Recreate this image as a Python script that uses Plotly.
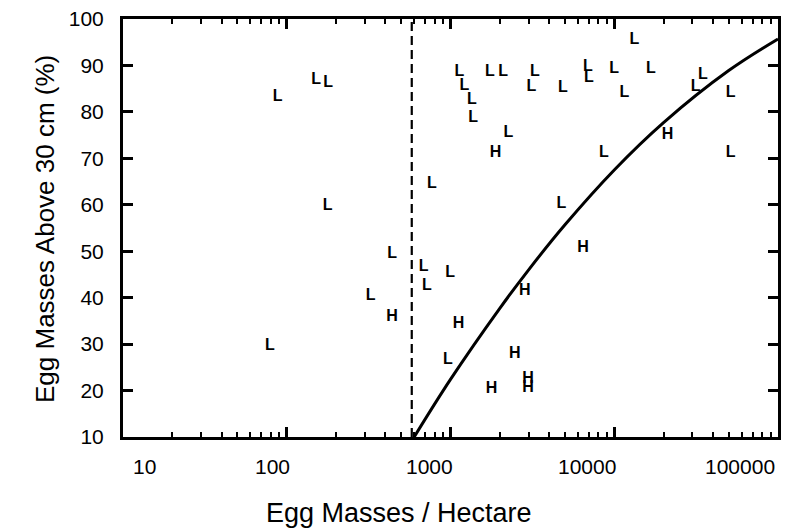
import numpy as np
import plotly.graph_objects as go

# ---- data ----
L_x = [88, 151, 179, 178, 79, 440, 685, 718, 995, 325, 964, 769,
       1135, 1216, 1349, 1377, 1741, 2099, 2256, 3273, 3119, 4864, 4753,
       13280, 6900, 7000, 10000, 16750, 11530, 34800, 31400, 51300, 8630, 51300]
L_y = [83.3, 86.9, 86.3, 59.7, 29.7, 49.4, 46.5, 42.6, 45.4, 40.4, 26.5, 64.4,
       88.6, 85.6, 82.6, 78.6, 88.6, 88.6, 75.4, 88.6, 85.4, 85.1, 60.1,
       95.4, 89.7, 87.2, 89.3, 89.3, 84.0, 87.9, 85.4, 84.0, 71.1, 71.1]

H_x = [1884, 21150, 6440, 440, 1120, 2845, 2470, 1783, 2980, 2980]
H_y = [71.1, 75.1, 50.8, 35.8, 34.4, 41.5, 27.9, 20.4, 22.4, 20.6]

curve_x = [600, 1000, 2000, 3000, 5000, 10000, 20000, 50000, 100000]
curve_y = [10.0, 22.4, 37.7, 46.0, 55.7, 67.5, 77.7, 88.9, 95.7]

threshold_x = 580
y_range = [10, 100]

x_tick_vals = [10, 100, 1000, 10000, 100000]
x_tick_text = ["10", "100", "1000", "10000", "100000"]
y_tick_vals = [10, 20, 30, 40, 50, 60, 70, 80, 90, 100]

x_title = "Egg Masses / Hectare"
y_title = "Egg Masses Above 30 cm (%)"

FONT = "Liberation Sans, Arial, Helvetica, sans-serif"

fig = go.Figure()

fig.add_trace(go.Scatter(
    x=[threshold_x, threshold_x], y=y_range, mode="lines",
    line=dict(color="black", width=2.2, dash="9px,5px"), hoverinfo="skip"))

fig.add_trace(go.Scatter(
    x=curve_x, y=curve_y, mode="lines", line_shape="spline",
    line=dict(color="black", width=3), hoverinfo="skip"))

fig.add_trace(go.Scatter(
    x=L_x, y=L_y, mode="text", text=["L"] * len(L_x),
    textposition="middle center",
    textfont=dict(family=FONT, size=16, color="black", weight="bold")))

fig.add_trace(go.Scatter(
    x=H_x, y=H_y, mode="text", text=["H"] * len(H_x),
    textposition="middle center",
    textfont=dict(family=FONT, size=16, color="black", weight="bold")))

# invisible trace so the top (mirror) axis is drawn with its minor ticks
fig.add_trace(go.Scatter(x=[x_tick_vals[0]], y=[y_range[0]], xaxis="x2",
                         mode="markers", marker=dict(opacity=0),
                         hoverinfo="skip"))

minor_vals = [m * 10 ** d for d in range(1, 5) for m in range(2, 10)]

axis_common = dict(
    type="log", range=[1, 5], showgrid=False, zeroline=False,
    showline=True, linecolor="black", linewidth=3,
    ticks="inside", ticklen=10, tickwidth=2.5, tickcolor="black",
    tickmode="array", tickvals=x_tick_vals, showticklabels=False,
    minor=dict(ticks="inside", ticklen=5, tickwidth=2, tickcolor="black",
               tickmode="array", tickvals=minor_vals, showgrid=False),
)

fig.update_layout(
    xaxis=dict(**axis_common),
    xaxis2=dict(**axis_common, overlaying="x", side="top", anchor="y"),
)
fig.update_yaxes(
    range=y_range, showgrid=False, zeroline=False,
    showline=True, linecolor="black", linewidth=3, mirror="ticks",
    ticks="inside", ticklen=10, tickwidth=2.5, tickcolor="black",
    tickmode="array", tickvals=y_tick_vals, ticklabelstandoff=12,
    tickfont=dict(family=FONT, size=21, color="black"),
)

label_shifts = [21, -14, -21, -27, -38]
annotations = []
for v, t, s in zip(x_tick_vals, x_tick_text, label_shifts):
    annotations.append(dict(x=np.log10(v), y=0, xref="x", yref="paper",
                            text=t, showarrow=False, xshift=s, yshift=-29,
                            yanchor="middle", xanchor="center",
                            font=dict(family=FONT, size=21, color="black")))
annotations.append(dict(x=0.421, y=0, xref="paper", yref="paper", text=x_title,
                        showarrow=False, yshift=-76, yanchor="middle",
                        font=dict(family=FONT, size=27, color="black")))
annotations.append(dict(x=0, y=0.4976, xref="paper", yref="paper", text=y_title,
                        showarrow=False, xshift=-78, textangle=-90,
                        xanchor="center", yanchor="middle",
                        font=dict(family=FONT, size=26, color="black")))

fig.update_layout(
    width=788, height=528, showlegend=False,
    paper_bgcolor="white", plot_bgcolor="white",
    margin=dict(l=123, r=7, t=17, b=91),
    annotations=annotations,
)

fig.write_html("out.html", config={"displayModeBar": False},
               post_script="document.body.style.margin='0px';document.body.style.overflow='hidden';")
